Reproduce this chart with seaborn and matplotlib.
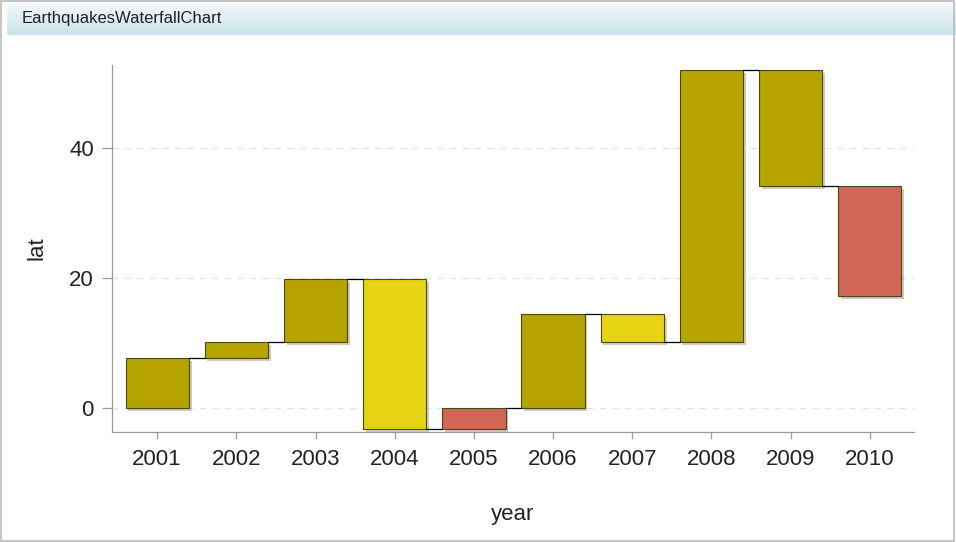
import numpy as np
import pandas as pd
import seaborn as sns
import matplotlib.pyplot as plt
import matplotlib.patheffects as pe
from matplotlib.patches import Rectangle
from matplotlib.colors import LinearSegmentedColormap

# data
years = ['2001', '2002', '2003', '2004', '2005', '2006', '2007', '2008', '2009', '2010']
lat_change = [7.7, 2.4, 9.7, -23.0, 3.2, 14.4, -4.3, 41.9, -17.9, -16.9]
groups = ['A', 'A', 'A', 'B', 'C', 'A', 'B', 'A', 'A', 'C']
palette = {'A': '#B5A300', 'B': '#E6D414', 'C': '#D26658'}

cum = np.cumsum(lat_change)
start = np.concatenate([[0], cum[:-1]])

df = pd.DataFrame({'year': years, 'lat': lat_change, 'group': groups})

sns.set_style('white')
plt.rcParams['font.family'] = ['Liberation Sans', 'DejaVu Sans']

fig = plt.figure(figsize=(9.56, 5.42), dpi=100)

# header band
hax = fig.add_axes([0.007, 0.935, 0.993, 0.062])
grad = np.linspace(0, 1, 50).reshape(-1, 1)
hax.imshow(grad, aspect='auto', extent=[0, 1, 0, 1],
           cmap=LinearSegmentedColormap.from_list('hdr', ['#F6FAFB', '#C9E4EA']))
hax.set_axis_off()
hax.text(0.016, 0.5, 'EarthquakesWaterfallChart', va='center', ha='left', fontsize=12,
         color='#222222', transform=hax.transAxes)

ax = fig.add_axes([0.1172, 0.203, 0.8389, 0.677])
width = 0.8
sns.barplot(data=df, x='year', y='lat', hue='group', palette=palette, dodge=False,
            legend=False, width=width, saturation=1, edgecolor='#4a4a10', linewidth=0.8,
            ax=ax)

# move each bar so it starts at the running total
for p in ax.patches:
    i = int(round(p.get_x() + p.get_width() / 2))
    p.set_y(start[i])
    p.set_height(lat_change[i])
    p.set_path_effects([pe.SimplePatchShadow(offset=(2, -2), alpha=0.25), pe.Normal()])

# connectors
for i in range(len(years) - 1):
    ax.plot([i + width / 2, i + 1 - width / 2], [cum[i], cum[i]], color='black', lw=0.9)

ax.set_ylim(-3.7, 52.8)
ax.set_xlim(-0.57, 9.56)
ax.set_yticks([0, 20, 40])
ax.yaxis.grid(True, linestyle=(0, (5, 5)), color='#E3E3E3', lw=0.9)
ax.set_axisbelow(True)
for s in ['top', 'right']:
    ax.spines[s].set_visible(False)
for s in ['left', 'bottom']:
    ax.spines[s].set_color('#9A9A9A')
    ax.spines[s].set_linewidth(0.9)
ax.tick_params(axis='both', colors='#9A9A9A', labelcolor='#222222', labelsize=16,
               width=0.9, direction='out', bottom=True, left=True)
ax.tick_params(axis='x', length=5, pad=7)
ax.tick_params(axis='y', length=7, pad=6)
ax.set_xlabel('year', fontsize=16, color='#222222', labelpad=25)
ax.set_ylabel('lat', fontsize=16, color='#222222', labelpad=16)

# outer border
fig.patches.append(Rectangle((0.001, 0.002), 0.997, 0.996, transform=fig.transFigure,
                             fill=False, edgecolor='#BBBBBB', lw=1.2))

fig.savefig('out.png', dpi=100)
